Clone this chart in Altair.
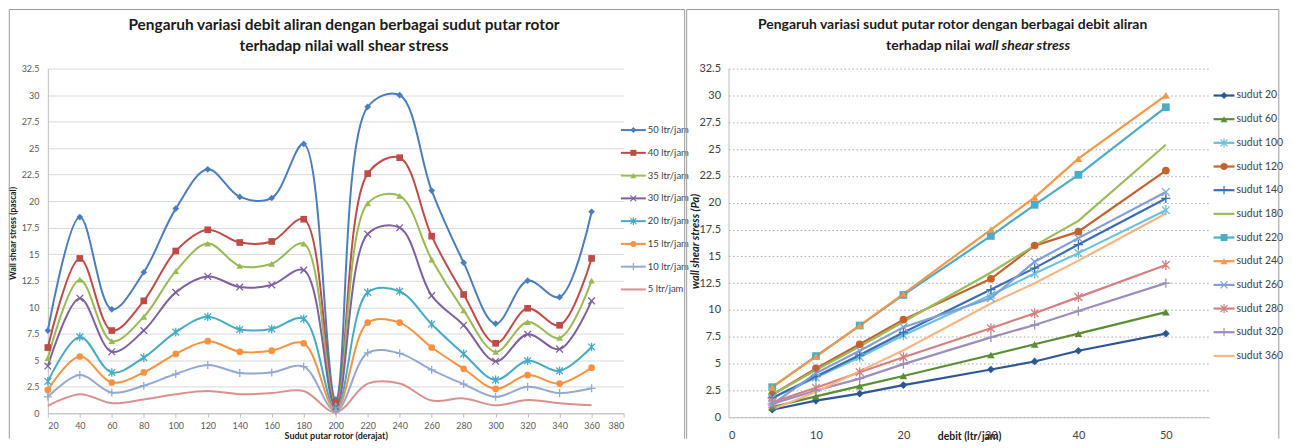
import altair as alt
import pandas as pd

FONT = "Lato"

# ---------------- data ----------------
ANGLES = [20, 40, 60, 80, 100, 120, 140, 160, 180, 200, 220, 240, 260, 280, 300, 320, 340, 360]
WSS_50 = [7.8, 18.5, 9.8, 13.3, 19.3, 23.0, 20.4, 20.3, 25.4, 1.3, 28.9, 30.0, 21.0, 14.2, 8.45, 12.5, 10.95, 19.0]
WSS_40 = [6.2, 14.6, 7.8, 10.6, 15.3, 17.3, 16.1, 16.2, 18.3, 1.0, 22.6, 24.1, 16.7, 11.2, 6.6, 9.9, 8.3, 14.6]
WSS_35 = [5.2, 12.6, 6.8, 9.1, 13.4, 16.0, 13.9, 14.1, 16.0, 0.8, 19.8, 20.5, 14.5, 9.7, 5.8, 8.6, 7.1, 12.5]
WSS_30 = [4.45, 10.85, 5.8, 7.8, 11.4, 12.9, 11.9, 12.1, 13.5, 0.6, 16.9, 17.5, 11.1, 8.3, 4.9, 7.45, 6.05, 10.6]
WSS_20 = [3.0, 7.2, 3.85, 5.25, 7.65, 9.1, 7.9, 7.95, 8.9, 0.4, 11.4, 11.5, 8.4, 5.6, 3.15, 4.95, 4.0, 6.25]
WSS_15 = [2.2, 5.35, 2.9, 3.85, 5.6, 6.8, 5.8, 5.9, 6.6, 0.3, 8.55, 8.55, 6.2, 4.2, 2.3, 3.6, 2.8, 4.3]
WSS_10 = [1.55, 3.6, 1.95, 2.6, 3.7, 4.55, 3.8, 3.85, 4.4, 0.2, 5.7, 5.65, 4.1, 2.75, 1.55, 2.5, 1.9, 2.35]
WSS_5 = [0.7, 1.8, 0.95, 1.3, 1.8, 2.1, 1.8, 1.9, 2.1, 0.1, 2.8, 2.8, 1.2, 1.4, 0.75, 1.25, 0.95, 0.75]

LEFT_SERIES = ["50 ltr/jam", "40 ltr/jam", "35 ltr/jam", "30 ltr/jam",
               "20 ltr/jam", "15 ltr/jam", "10 ltr/jam", "5 ltr/jam"]
DEBITS = [50, 40, 35, 30, 20, 15, 10, 5]
ALL_WSS = [WSS_50, WSS_40, WSS_35, WSS_30, WSS_20, WSS_15, WSS_10, WSS_5]

RIGHT_ANGLES = [20, 60, 100, 120, 140, 180, 220, 240, 260, 280, 320, 360]
RIGHT_SERIES = ["sudut 20", "sudut 60", "sudut 100", "sudut 120", "sudut 140", "sudut 180",
                "sudut 220", "sudut 240", "sudut 260", "sudut 280", "sudut 320", "sudut 360"]

LEFT_X_TICKS = [20, 40, 60, 80, 100, 120, 140, 160, 180, 200, 220, 240, 260, 280, 300, 320, 340, 360, 380]
RIGHT_X_TICKS = [0, 10, 20, 30, 40, 50]
Y_TICKS = [0, 2.5, 5, 7.5, 10, 12.5, 15, 17.5, 20, 22.5, 25, 27.5, 30, 32.5]

TITLE_L = ["Pengaruh variasi debit aliran dengan berbagai sudut putar rotor",
           "terhadap nilai wall shear stress"]
TITLE_R1 = "Pengaruh variasi sudut putar rotor  dengan berbagai debit aliran"
TITLE_R2A = "terhadap nilai"
TITLE_R2B = "wall shear stress"

# ---------------- styles ----------------
X_PATH = "M-1,-1L1,1M-1,1L1,-1"
AST_PATH = "M-1,-1L1,1M-1,1L1,-1M0,-1.3L0,1.3"
PLUS_PATH = "M-1.2,0L1.2,0M0,-1.2L0,1.2"

LEFT_COLORS = ["#4A7EBB", "#BE4B48", "#98B954", "#7D60A0", "#46AAC5", "#F69240", "#93A9D2", "#D9908F"]
LEFT_MARKERS = ["diamond", "square", "triangle-up", X_PATH, AST_PATH, "circle", PLUS_PATH, None]

RIGHT_COLORS = ["#2D5694", "#5A8E34", "#6CC0DA", "#C4622D", "#3C6DB0", "#9BBB59",
                "#4BACC6", "#F79646", "#7F9FD6", "#D67F7F", "#9C8DBA", "#F9B580"]
RIGHT_MARKERS = ["diamond", "triangle-up", AST_PATH, "circle", PLUS_PATH, None,
                 "square", "triangle-up", X_PATH, AST_PATH, PLUS_PATH, None]

FILLED = {"diamond", "square", "triangle-up", "circle"}
Y_LABEL_EXPR = "'' + datum.value"


def kind_of(m):
    if m is None:
        return "none"
    return "filled" if m in FILLED else "stroke"


# ---------------- tables ----------------
left_rows = []
for name, vals in zip(LEFT_SERIES, ALL_WSS):
    for a, v in zip(ANGLES, vals):
        left_rows.append({"series": name, "x": a, "y": v})
left_df = pd.DataFrame(left_rows)

right_rows = []
for name, a in zip(RIGHT_SERIES, RIGHT_ANGLES):
    idx = ANGLES.index(a)
    for d, vals in zip(DEBITS, ALL_WSS):
        right_rows.append({"series": name, "x": d, "y": vals[idx]})
right_df = pd.DataFrame(right_rows)


def one(text):
    return pd.DataFrame({"t": [text]})


def panel(df, series, colors, markers, x_enc, y_enc, interp, line_w, msize,
          leg, decor, w, h):
    kinds = {s: kind_of(m) for s, m in zip(series, markers)}
    df = df.assign(kind=df["series"].map(kinds))
    shape_range = [m if m is not None else "circle" for m in markers]
    color = alt.Color("series:N", scale=alt.Scale(domain=series, range=colors), legend=None)
    shape = alt.Shape("series:N", scale=alt.Scale(domain=series, range=shape_range), legend=None)

    base = alt.Chart(df)
    lines = base.mark_line(interpolate=interp, strokeWidth=line_w).encode(
        x=x_enc, y=y_enc, color=color)
    pf = base.transform_filter(alt.datum.kind == "filled").mark_point(
        filled=True, size=msize, opacity=1).encode(x=x_enc, y=y_enc, color=color, shape=shape)
    ps = base.transform_filter(alt.datum.kind == "stroke").mark_point(
        filled=False, size=msize, opacity=1, strokeWidth=1.3).encode(
        x=x_enc, y=y_enc, color=color, shape=shape)
    data_layer = alt.layer(lines, pf, ps)

    leg_df = pd.DataFrame({"series": series, "kind": [kinds[s] for s in series]})
    ly = alt.Y("series:N", scale=alt.Scale(type="point", domain=series,
                                            range=[leg["y0"], leg["y1"]], padding=0), axis=None)
    lb = alt.Chart(leg_df)
    l_rule = lb.mark_rule(strokeWidth=line_w).encode(
        x=alt.value(leg["r0"]), x2=alt.value(leg["r1"]), y=ly, color=color)
    l_pf = lb.transform_filter(alt.datum.kind == "filled").mark_point(
        filled=True, size=msize * 0.8, opacity=1).encode(
        x=alt.value(leg["m"]), y=ly, color=color, shape=shape)
    l_ps = lb.transform_filter(alt.datum.kind == "stroke").mark_point(
        filled=False, size=msize * 0.8, opacity=1, strokeWidth=1.2).encode(
        x=alt.value(leg["m"]), y=ly, color=color, shape=shape)
    l_txt = lb.mark_text(align="left", baseline="middle", font=FONT,
                         fontSize=leg["fs"], color="#404040").encode(
        x=alt.value(leg["t"]), y=ly, text="series:N")
    legend_layer = alt.layer(l_rule, l_pf, l_ps, l_txt)

    return alt.layer(data_layer, legend_layer, *decor).resolve_scale(
        y="independent").properties(width=w, height=h)


def border(x0, x1, y0, y1):
    top = alt.Chart(one("b")).mark_rule(color="#9A9A9A", strokeWidth=1).encode(
        x=alt.value(x0), x2=alt.value(x1), y=alt.value(y0))
    lft = alt.Chart(one("b")).mark_rule(color="#9A9A9A", strokeWidth=1).encode(
        x=alt.value(x0), y=alt.value(y0), y2=alt.value(y1))
    rgt = alt.Chart(one("b")).mark_rule(color="#9A9A9A", strokeWidth=1).encode(
        x=alt.value(x1), y=alt.value(y0), y2=alt.value(y1))
    return [top, lft, rgt]


def text(s, x, y, size=14, align="center", style="normal", weight="bold"):
    return alt.Chart(one(s)).mark_text(
        font=FONT, fontSize=size, fontWeight=weight, fontStyle=style,
        align=align, baseline="middle", color="#1A1A1A").encode(
        x=alt.value(x), y=alt.value(y), text="t:N")


# ---------------- left panel ----------------
LW, LH = 578, 346
lx = alt.X("x:Q", scale=alt.Scale(domain=[20, 380], nice=False, zero=False),
           axis=alt.Axis(values=LEFT_X_TICKS, grid=False, labelFontSize=9, labelColor="#595959",
                         labelPadding=4, tickSize=4, tickColor="#BFBFBF", domainColor="#BFBFBF",
                         title="Sudut putar rotor (derajat)", titleFontSize=9, titleFontWeight="bold",
                         titleColor="#1A1A1A", titleY=22, titleBaseline="middle"))
lyy = alt.Y("y:Q", scale=alt.Scale(domain=[0, 32.5], nice=False),
            axis=alt.Axis(values=Y_TICKS, labelExpr=Y_LABEL_EXPR, grid=True, gridColor="#D9D9D9",
                          ticks=False, labelFontSize=9, labelColor="#595959", labelPadding=9,
                          domainColor="#BFBFBF", title="Wall shear  stress (pascal)",
                          titleFontSize=8.5, titleFontWeight="bold", titleColor="#1A1A1A",
                          titleX=-35, titleY=165, titleAngle=-90, titleAlign="center",
                          titleBaseline="middle"))
left_decor = border(-38.7, 639.3, -59.3, 371.5) + [
    text(TITLE_L[0], 297.3, -43.3, size=15.5),
    text(TITLE_L[1], 297.3, -22.3, size=15.5),
]
left = panel(left_df, LEFT_SERIES, LEFT_COLORS, LEFT_MARKERS, lx, lyy, "catmull-rom", 2, 45,
             {"y0": 61.7, "y1": 221.7, "r0": 575.3, "r1": 600.3, "m": 587.8, "t": 602.3, "fs": 9.5},
             left_decor, LW, LH)

# ---------------- right panel ----------------
RW, RH = 483, 350
rx = alt.X("x:Q", scale=alt.Scale(domain=[0, 55], nice=False, zero=False),
           axis=alt.Axis(values=RIGHT_X_TICKS, grid=False, labelFontSize=11, labelColor="#404040",
                         labelPadding=12, ticks=False, domainColor="#BFBFBF",
                         title="debit (ltr/jam)", titleFontSize=10.5, titleFontWeight="bold",
                         titleColor="#1A1A1A", titleY=19, titleBaseline="middle"))
ryy = alt.Y("y:Q", scale=alt.Scale(domain=[0, 32.5], nice=False),
            axis=alt.Axis(values=Y_TICKS, labelExpr=Y_LABEL_EXPR, grid=True, gridColor="#A8A8A8",
                          gridDash=[1.5, 2.5], ticks=False, labelFontSize=11, labelColor="#404040",
                          labelPadding=8, domainColor="#BFBFBF", title="wall shear stress (Pa)",
                          titleFontSize=11, titleFontWeight="bold", titleFontStyle="italic",
                          titleColor="#1A1A1A", titleX=-33, titleY=173, titleAngle=-90,
                          titleAlign="center", titleBaseline="middle"))
right_decor = border(-42, 552.5, -59.3, 371.5) + [
    text(TITLE_R1, 225, -43.3),
    text(TITLE_R2A, 243, -22.3, align="right"),
    text(TITLE_R2B, 247, -22.3, align="left", style="italic"),
]
right = panel(right_df, RIGHT_SERIES, RIGHT_COLORS, RIGHT_MARKERS, rx, ryy, "linear", 2.2, 60,
              {"y0": 27, "y1": 288.4, "r0": 487, "r1": 508, "m": 497.5, "t": 510, "fs": 10.5},
              right_decor, RW, RH)

chart = alt.hconcat(left, right, spacing=105.3, bounds="flush", padding=0).resolve_scale(
    color="independent", shape="independent").configure_view(
    stroke=None).configure_axis(labelFont=FONT, titleFont=FONT)

chart.save("out.html", embed_options={"renderer": "svg", "actions": False})
